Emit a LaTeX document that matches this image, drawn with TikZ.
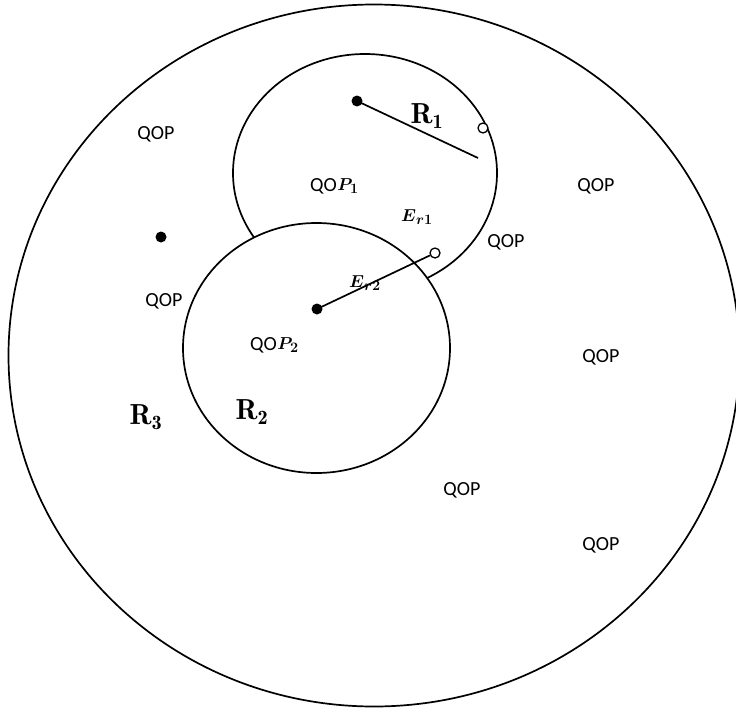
\documentclass[tikz,border=0pt]{standalone}
\usepackage{amsmath}
\usepackage{fontspec}
\newfontfamily\qopfont{Carlito}
\begin{document}
\begin{tikzpicture}[x=1pt,y=-1pt,
  ring/.style={draw=black,line width=1.7pt},
  seg/.style={draw=black,line width=1.7pt},
  fdot/.style={circle,fill=black,inner sep=0pt,minimum size=11pt},
  odot/.style={circle,draw=black,fill=white,line width=1.3pt,inner sep=0pt,minimum size=10pt},
  qop/.style={font=\qopfont\fontsize{20}{22}\selectfont,inner sep=0pt},
  pidx/.style={font=\fontsize{19}{21}\selectfont,inner sep=0pt},
  rlab/.style={font=\fontsize{29}{32}\selectfont,inner sep=0pt},
  elab/.style={font=\fontsize{19}{21}\selectfont,inner sep=0pt}]
\useasboundingbox (0,0) rectangle (736,709);
% circles
\draw[ring] (374,355.5) ellipse [x radius=365.5, y radius=351];
\draw[ring] (365,173) ellipse [x radius=132, y radius=119];
\draw[ring,fill=white] (316.5,348) ellipse [x radius=133.5, y radius=125];
% R1 radius
\node[fdot] (c1) at (357,101) {};
\coordinate (r1end) at (478,158);
\draw[seg] (c1.center) -- (r1end);
\node[odot] (o1) at (483,128) {};
% R2 radius
\node[fdot] (c2) at (317,309) {};
\node[odot] (o2) at (435,253) {};
\draw[seg] (c2.center) -- (o2);
% lone point
\node[fdot] (p3) at (161,237) {};
% labels
\node[rlab] (lr1) at (427,116) {$\mathbf{R}_{\mathbf{1}}$};
\node[rlab] (lr2) at (252,412) {$\mathbf{R}_{\mathbf{2}}$};
\node[rlab] (lr3) at (146,417) {$\mathbf{R}_{\mathbf{3}}$};
\node[elab] (le1) at (417,217) {$\boldsymbol{E}_{\boldsymbol{r1}}$};
\node[elab] (le2) at (365,283) {$\boldsymbol{E}_{\boldsymbol{r2}}$};
\node[qop,anchor=west] (qp1) at (310,186) {QO};
\node[pidx,anchor=west] (pp1) at (qp1.east) {$\boldsymbol{P}_{\!\boldsymbol{1}}$};
\node[qop,anchor=west] (qp2) at (250,345) {QO};
\node[pidx,anchor=west] (pp2) at (qp2.east) {$\boldsymbol{P}_{\!\boldsymbol{2}}$};
\node[qop] (q1) at (156,134) {QOP};
\node[qop] (q2) at (596,186) {QOP};
\node[qop] (q3) at (506,242) {QOP};
\node[qop] (q4) at (164,301) {QOP};
\node[qop] (q5) at (601,357) {QOP};
\node[qop] (q6) at (462,490) {QOP};
\node[qop] (q7) at (601,545) {QOP};
\end{tikzpicture}
\end{document}
